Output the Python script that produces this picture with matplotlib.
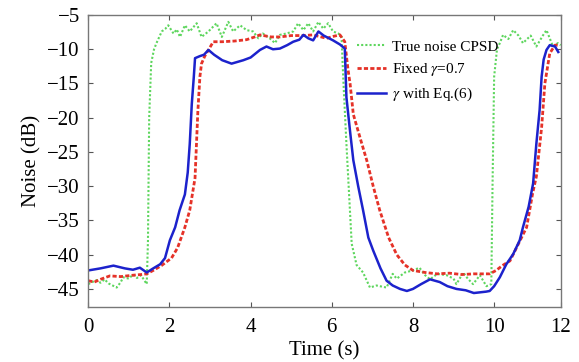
import numpy as np
import matplotlib
matplotlib.use('Agg')
import matplotlib.pyplot as plt

plt.rcParams['font.family'] = ['Liberation Serif', 'DejaVu Serif']
plt.rcParams['mathtext.fontset'] = 'stix'

# values
true_t = [0, 0.1, 0.2, 0.3, 0.4, 0.5, 0.6, 0.7, 0.8, 0.86, 1.0, 1.1, 1.2, 1.3, 1.44,
          1.47, 1.5, 1.55, 1.62, 1.68, 1.81, 1.9, 1.97, 2.1, 2.18, 2.26, 2.38, 2.5,
          2.67, 2.79, 2.96, 3.16, 3.29, 3.45, 3.57, 3.74, 3.9, 4.06, 4.19, 4.3, 4.47,
          4.6, 4.72, 4.88, 5.05, 5.17, 5.3, 5.42, 5.54, 5.67, 5.79, 5.91, 6.03, 6.16,
          6.24, 6.28, 6.36, 6.49, 6.61, 6.77, 6.94, 7.1, 7.35, 7.5, 7.6, 7.8, 8.0,
          8.16, 8.3, 8.42, 8.6, 8.83, 9.0, 9.07, 9.24, 9.35, 9.48, 9.65, 9.81, 9.93,
          9.96, 10.0, 10.07, 10.14, 10.22, 10.35, 10.47, 10.6, 10.71, 10.9, 11.04,
          11.2, 11.29, 11.45, 11.57, 11.64]
true_db = [-44.3, -44.0, -43.7, -44.1, -43.6, -44.2, -44.5, -44.8, -44.0, -43.3, -43.5,
           -42.9, -43.4, -43.0, -44.3, -38, -20, -12, -10, -9.1, -7.4, -7.0, -6.5,
           -7.7, -7.1, -8.2, -6.5, -7.4, -6.2, -8.2, -7.4, -6.2, -8.2, -6.0, -7.4,
           -6.5, -7.2, -7.4, -8.4, -7.7, -8.4, -9.1, -7.9, -7.7, -7.4, -6.2, -7.2,
           -6.2, -7.4, -6.0, -7.0, -6.2, -7.4, -7.7, -8.2, -14, -23.8, -38.4, -41.5,
           -42.6, -44.8, -44.5, -44.8, -42.8, -43.5, -42.6, -42.3, -41.9, -43.0,
           -43.6, -42.8, -43.0, -43.5, -44.3, -42.6, -43.5, -44.3, -43.0, -44.6,
           -44.3, -30, -14, -10, -9.1, -7.9, -8.5, -7.2, -8.0, -9.1, -8.0, -9.6,
           -8.0, -7.2, -9.6, -9.1, -9.4]

fixed_t = [0, 0.15, 0.3, 0.53, 0.8, 1.1, 1.3, 1.44, 1.6, 1.8, 2.05, 2.2, 2.38, 2.5,
           2.63, 2.7, 2.75, 2.79, 2.87, 2.96, 3.08, 3.3, 3.6, 3.9, 4.1, 4.23, 4.5,
           4.72, 5.0, 5.3, 5.54, 5.87, 6.05, 6.2, 6.32, 6.4, 6.45, 6.53, 6.7, 6.86,
           7.02, 7.18, 7.4, 7.6, 7.8, 8.0, 8.3, 8.6, 8.9, 9.2, 9.5, 9.89, 10.05,
           10.2, 10.39, 10.55, 10.8, 10.95, 11.04, 11.17, 11.25, 11.37, 11.5, 11.6]
fixed_db = [-43.8, -44.0, -43.6, -43.1, -43.2, -43.0, -42.9, -42.8, -42.3, -41.6,
            -40.5, -39.0, -36.0, -33.5, -28.8, -19.0, -14.0, -12.1, -11.0, -10.1,
            -8.9, -8.9, -8.8, -8.6, -8.2, -7.9, -8.2, -8.2, -8.0, -8.0, -7.9, -8.4,
            -8.1, -7.9, -8.9, -13, -15, -19.5, -23, -26.2, -30, -33.5, -37.5, -40.0,
            -41.5, -42.3, -42.6, -42.8, -42.7, -42.9, -42.8, -42.8, -42.3, -41.6,
            -40.9, -39, -36, -31, -28.6, -21.4, -15, -10.6, -9.4, -9.4]

eq6_t = [0, 0.3, 0.62, 0.9, 1.1, 1.27, 1.44, 1.6, 1.77, 1.89, 2.01, 2.14, 2.25, 2.38,
         2.45, 2.5, 2.55, 2.6, 2.63, 2.75, 2.85, 2.96, 3.1, 3.3, 3.53, 3.82, 4.0,
         4.23, 4.39, 4.55, 4.72, 4.9, 5.05, 5.2, 5.3, 5.42, 5.54, 5.67, 5.8, 6.03,
         6.2, 6.32, 6.36, 6.45, 6.53, 6.65, 6.77, 6.9, 7.02, 7.2, 7.35, 7.5, 7.68,
         7.85, 8.0, 8.2, 8.42, 8.66, 8.85, 9.07, 9.3, 9.5, 9.65, 9.8, 9.89, 10.0,
         10.14, 10.3, 10.47, 10.63, 10.71, 10.85, 10.96, 11.04, 11.12, 11.17, 11.22,
         11.29, 11.37, 11.5, 11.58]
eq6_db = [-42.3, -42.0, -41.6, -42.0, -42.2, -41.9, -42.6, -42.0, -41.4, -40.5,
          -37.9, -36.0, -33.5, -31.2, -28.0, -23.8, -18.0, -14.0, -11.3, -11.0,
          -10.8, -10.1, -10.8, -11.6, -12.1, -11.6, -11.2, -10.1, -9.6, -10.0, -9.9,
          -9.4, -8.9, -8.6, -7.9, -8.4, -8.7, -7.4, -8.0, -8.7, -9.3, -9.9, -17.0,
          -22, -26.2, -30, -33.5, -37.5, -39.4, -42, -43.8, -44.5, -45, -45.3, -45,
          -44.3, -43.6, -44, -44.6, -45, -45.2, -45.6, -45.5, -45.4, -45.3, -44.6,
          -43.3, -41.4, -39.9, -37.9, -36, -33, -29.6, -23.8, -18.9, -14, -11.5,
          -10.1, -9.4, -9.6, -10.4]

x_end = 11.64
xtick_pos = [0, 2, 4, 6, 8, 10, x_end]
xtick_labels = ['0', '2', '4', '6', '8', '10', '12']
ytick_vals = [-45, -40, -35, -30, -25, -20, -15, -10, -5]

fig = plt.figure(figsize=(5.79, 3.62), dpi=100)
ax = fig.add_axes([0.1525, 0.1527, 0.8159, 0.8058])

ax.plot(true_t, true_db, color='#5ed65e', lw=1.5, ls=(0, (1, 1)),
        label='True noise CPSD')
ax.plot(fixed_t, fixed_db, color='#e53228', lw=2.0, ls=(0, (1.5, 0.8)),
        label=r'Fixed $\gamma$=0.7')
ax.plot(eq6_t, eq6_db, color='#1c22cc', lw=1.8, label=r'$\gamma$ with Eq.(6)')

ax.set_xlim(0, x_end)
ax.set_ylim(-47.6, -5)
ax.set_xticks(xtick_pos)
ax.set_xticklabels(xtick_labels)
ax.set_yticks(ytick_vals)
ax.tick_params(direction='in', top=True, right=True, length=3.5, labelsize=15,
               color='#555555')
ax.tick_params(axis='x', pad=8)
ax.tick_params(axis='y', pad=6)
for s in ax.spines.values():
    s.set_color('#777777')
    s.set_linewidth(1.0)

ax.set_xlabel('Time (s)', fontsize=15, labelpad=3)
ax.set_ylabel('Noise (dB)', fontsize=15, labelpad=4)

ax.legend(loc='upper left', bbox_to_anchor=(0.555, 0.935), frameon=False,
          fontsize=11, handlelength=1.9, handletextpad=0.4, labelspacing=0.5,
          borderaxespad=0)

fig.savefig('out.png', dpi=100)
